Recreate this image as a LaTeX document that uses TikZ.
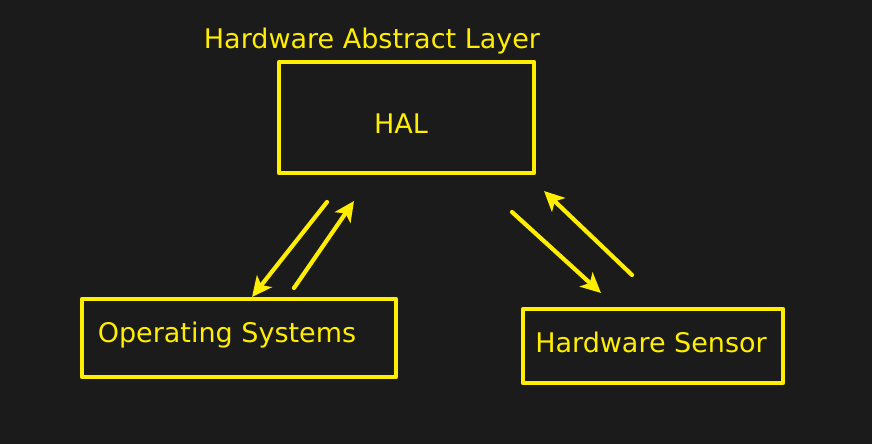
\documentclass[tikz,border=0pt]{standalone}
\usepackage{fontspec}
\setmainfont{DejaVu Sans}
\usetikzlibrary{arrows.meta}
\definecolor{bg}{RGB}{27,27,27}
\definecolor{hy}{RGB}{255,238,0}
\tikzset{
  box/.style={draw=hy, line width=4.5pt, line join=round},
  lbl/.style={text=hy, font=\fontsize{27}{30}\selectfont, inner sep=0pt},
  conn/.style={draw=hy, line width=4.2pt, line cap=round, -{Stealth[length=20pt,width=19pt,inset=5pt]}},
}
\begin{document}
\begin{tikzpicture}[x=1pt,y=-1pt]
\fill[bg] (0,0) rectangle (872,444);
\useasboundingbox (0,0) rectangle (872,444);
\node[box, minimum width=255pt, minimum height=111pt, inner sep=0pt] (hal) at (406.5,117.5) {};
\node[lbl] (haltxt) at (401,124) {HAL};
\node[lbl] (title) at (372,41) {Hardware Abstract Layer};
\node[box, minimum width=314pt, minimum height=78pt, inner sep=0pt] (os) at (239,338) {};
\node[lbl] (ostxt) at (227,335) {Operating Systems};
\node[box, minimum width=260pt, minimum height=74pt, inner sep=0pt] (hs) at (653,346) {};
\node[lbl] (hstxt) at (651,342) {Hardware Sensor};
\coordinate (a1s) at (327,202); \coordinate (a1e) at (252,297);
\coordinate (a2s) at (294,288); \coordinate (a2e) at (354,201);
\coordinate (a3s) at (512,212); \coordinate (a3e) at (601,293);
\coordinate (a4s) at (632,275); \coordinate (a4e) at (544,191);
\draw[conn] (a1s) -- (a1e);
\draw[conn] (a2s) -- (a2e);
\draw[conn] (a3s) -- (a3e);
\draw[conn] (a4s) -- (a4e);
\end{tikzpicture}
\end{document}
